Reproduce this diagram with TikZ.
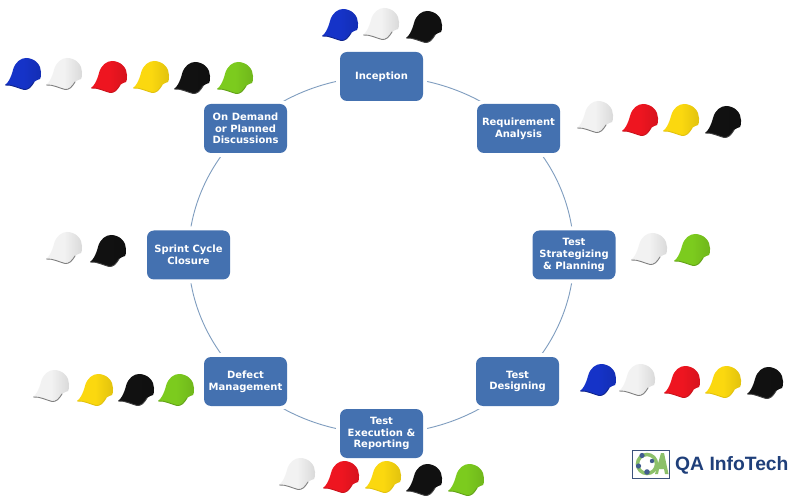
\documentclass[tikz,border=0pt]{standalone}
\usepackage{fontspec}
\setmainfont{DejaVu Sans}
\newfontfamily\logofont{Liberation Sans}
\usetikzlibrary{backgrounds}
\definecolor{boxblue}{HTML}{4471B0}
\definecolor{ringline}{HTML}{7F9DBF}
\definecolor{capblue}{HTML}{1533C8}
\definecolor{capwhite}{HTML}{F2F2F2}
\definecolor{capred}{HTML}{EE1520}
\definecolor{capyellow}{HTML}{FBD80F}
\definecolor{capblack}{HTML}{111111}
\definecolor{capgreen}{HTML}{7CCB1E}
\definecolor{logoblue}{HTML}{1F3F7A}
\definecolor{logogreen}{HTML}{8CC06A}
\tikzset{
  stage/.style={fill=boxblue,rounded corners=7pt,minimum width=83pt,minimum height=49pt,
    inner sep=0pt,text=white,align=center,font=\fontsize{10}{11.7}\selectfont\bfseries,
    preaction={draw=white,line width=8pt}},
  link/.style={draw=ringline,line width=0.9pt},
}
% \capat{colour}{edge colour}{x}{y}
\newcommand{\capat}[4]{%
  \begin{scope}[shift={(#3-18,#4-16)}]
    \shade[left color=#1,right color=#1!90!black,middle color=#1]
      (0,27) .. controls (3,25) and (6,20) .. (8,12)
      .. controls (10,4) and (16,0) .. (21,0)
      .. controls (30,0) and (36,7) .. (36,14)
      .. controls (36,18) and (36,20) .. (35,21)
      .. controls (33,22) and (31,22) .. (29,24)
      .. controls (26,29) and (23,32) .. (19,31.5)
      .. controls (13,30) and (7,26.5) .. (0,27) -- cycle;
    \draw[#2,line width=0.9pt,line cap=round]
      (0.5,27) .. controls (7,26.5) and (13,30) .. (19,31.5)
      .. controls (23,32) and (26,29) .. (29,24);
  \end{scope}}
\newcommand{\bluecap}[2]{\capat{capblue}{capblue!70!black}{#1}{#2}}
\newcommand{\whitecap}[2]{\capat{capwhite}{black!50}{#1}{#2}}
\newcommand{\redcap}[2]{\capat{capred}{capred!85!black}{#1}{#2}}
\newcommand{\yellowcap}[2]{\capat{capyellow}{capyellow!90!black}{#1}{#2}}
\newcommand{\blackcap}[2]{\capat{capblack}{black!75}{#1}{#2}}
\newcommand{\greencap}[2]{\capat{capgreen}{capgreen!80!black}{#1}{#2}}
\begin{document}
\begin{tikzpicture}[x=1pt,y=-1pt]
\useasboundingbox (0,0) rectangle (800,502);

\node[stage] (inc) at (381.5,76.5) {Inception};
\node[stage] (req) at (518.5,128.5) {Requirement\\Analysis};
\node[stage] (str) at (574,255) {Test\\Strategizing\\\& Planning};
\node[stage] (des) at (517.5,381.5) {Test\\Designing};
\node[stage] (exe) at (381.5,433.5) {Test\\Execution \&\\Reporting};
\node[stage] (def) at (245.5,381.5) {Defect\\Management};
\node[stage] (spr) at (188.5,255) {Sprint Cycle\\Closure};
\node[stage] (dem) at (245.5,128.5) {On Demand\\or Planned\\Discussions};

\begin{scope}[on background layer]
\fill[white] (0,0) rectangle (800,502);
\draw[link] (inc.center) .. controls +(51.2,0) and +(-36.2,-33.4) .. (req.center);
\draw[link] (req.center) .. controls +(36.2,33.4) and +(0,-47.2) .. (str.center);
\draw[link] (str.center) .. controls +(0,47.2) and +(36.2,-33.4) .. (des.center);
\draw[link] (des.center) .. controls +(-36.2,33.4) and +(51.2,0) .. (exe.center);
\draw[link] (exe.center) .. controls +(-51.2,0) and +(36.2,33.4) .. (def.center);
\draw[link] (def.center) .. controls +(-36.2,-33.4) and +(0,47.2) .. (spr.center);
\draw[link] (spr.center) .. controls +(0,-47.2) and +(-36.2,33.4) .. (dem.center);
\draw[link] (dem.center) .. controls +(36.2,-33.4) and +(-51.2,0) .. (inc.center);
\end{scope}

% caps
\bluecap{340}{25}\whitecap{381}{24}\blackcap{424}{27}
\bluecap{23}{74}\whitecap{64}{74}\redcap{109}{77}\yellowcap{151}{77}\blackcap{192}{78}\greencap{235}{78}
\whitecap{595}{117}\redcap{640}{120}\yellowcap{681}{120}\blackcap{723}{122}
\whitecap{649}{249}\greencap{692}{250}
\bluecap{598}{380}\whitecap{637}{380}\redcap{682}{382}\yellowcap{723}{382}\blackcap{765}{383}
\whitecap{297}{474}\redcap{341}{477}\yellowcap{383}{477}\blackcap{424}{480}\greencap{466}{480}
\whitecap{51}{386}\yellowcap{95}{390}\blackcap{136}{390}\greencap{176}{390}
\whitecap{64}{248}\blackcap{108}{251}

% logo
\draw[draw=logoblue!70!gray,fill=white,line width=1pt] (632.5,450.5) rectangle (669.5,478);
\draw[logogreen,line width=3.5pt] (647,464) circle (9.5pt);
\fill[logoblue!85] (642,455.5) circle (2.6pt) (638.5,466) circle (2.6pt) (647,472) circle (2.8pt) (652,461) circle (2.2pt);
\fill[logogreen] (655,474) -- (661,453) -- (664,453) -- (668.5,474) -- (665,474) -- (664,469) -- (659,469) -- (658,474) -- cycle;
\node[anchor=west,inner sep=0pt,text=logoblue,font=\logofont\fontsize{19.3}{20}\selectfont\bfseries] (logo) at (675,465) {QA InfoTech};
\end{tikzpicture}
\end{document}
